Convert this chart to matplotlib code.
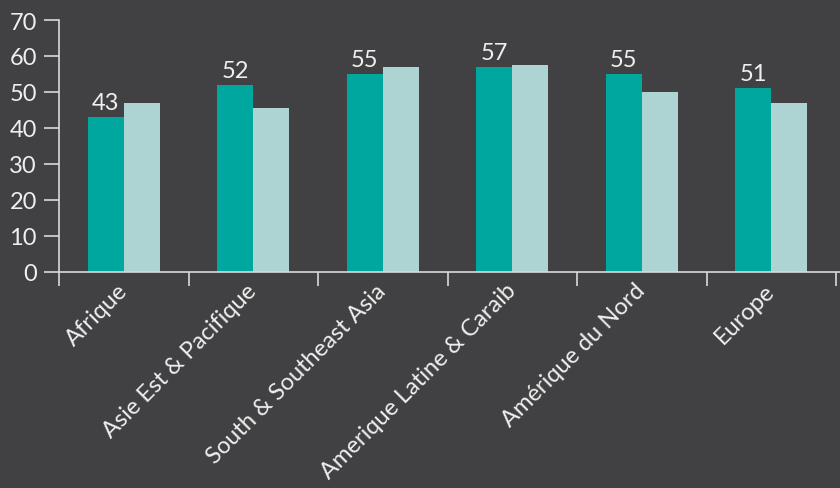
import matplotlib
matplotlib.use("Agg")
import matplotlib.pyplot as plt
import numpy as np

regions = ["Afrique", "Asie Est & Pacifique", "South & Southeast Asia",
           "Amerique Latine & Caraib", "Amérique du Nord", "Europe"]
series_a = [43, 52, 55, 57, 55, 51]
series_b = [47, 45.5, 57, 57.5, 50, 47]
y_ticks = [0, 10, 20, 30, 40, 50, 60, 70]

BG = "#414042"
TEAL = "#00A79F"
PALE = "#ADD4D3"
TXT = "#EFEFEF"
AXIS = "#D9D9D9"

plt.rcParams["font.family"] = ["Lato", "DejaVu Sans"]

fig = plt.figure(figsize=(8.4, 4.89), dpi=100, facecolor=BG)
ax = fig.add_axes([59 / 840, 216.3 / 489, 781 / 840, 251.7 / 489], facecolor=BG)

x = np.arange(len(regions))
w = 0.278
ax.bar(x - w / 2, series_a, width=w, color=TEAL, zorder=2)
ax.bar(x + w / 2, series_b, width=w, color=PALE, zorder=2)

for xi, v in zip(x, series_a):
    ax.annotate(f"{v}", (xi - w / 2, v), xytext=(0, 3), textcoords="offset points",
                ha="center", va="bottom", color=TXT, fontsize=17)

ax.set_ylim(0, 70)
ax.set_xlim(-0.5, 5.53)
ax.set_yticks(y_ticks)
ax.set_yticklabels([str(t) for t in y_ticks], fontsize=17, color=TXT)
ax.tick_params(axis="y", length=11, width=1.2, color=AXIS, pad=5)

ax.set_xticks(x)
ax.set_xticklabels(regions, rotation=45, ha="right", va="center", rotation_mode="anchor",
                   fontsize=17, color=TXT)
ax.tick_params(axis="x", length=0, pad=11)
ax.set_xticks(np.arange(-0.5, 6.0, 1.0), minor=True)
ax.tick_params(axis="x", which="minor", length=10, width=1.2, color=AXIS)

for side in ("top", "right"):
    ax.spines[side].set_visible(False)
for side in ("left", "bottom"):
    ax.spines[side].set_color(AXIS)
    ax.spines[side].set_linewidth(1.2)

fig.savefig("out.png", dpi=100, facecolor=BG)
